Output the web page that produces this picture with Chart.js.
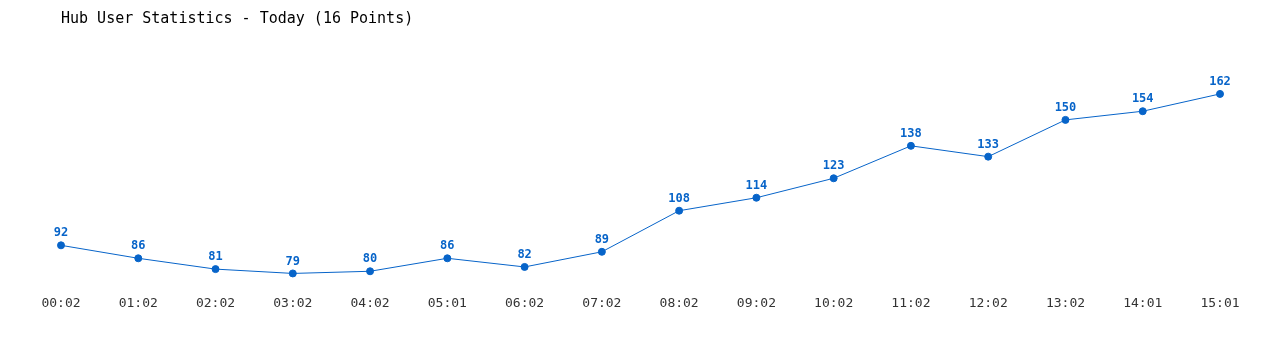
<!DOCTYPE html>
<html>
    <head>
        <meta charset="utf-8">
        <title>Hub User Statistics</title>
        <script src="https://cdn.jsdelivr.net/npm/chart.js@4/dist/chart.umd.min.js"></script>
        <style>
            body { margin: 0; background: #fff; }
        </style>
    </head>
    <body>
        <canvas id="hub-chart" width="1280" height="350"></canvas>
        <script>
            var chart_title = 'Hub User Statistics - Today (16 Points)';
            var array_labels = ['00:02', '01:02', '02:02', '03:02', '04:02', '05:01', '06:02', '07:02',
                                '08:02', '09:02', '10:02', '11:02', '12:02', '13:02', '14:01', '15:01'];
            var array_users = [92, 86, 81, 79, 80, 86, 82, 89, 108, 114, 123, 138, 133, 150, 154, 162];

            var line_color = '#0764c9';
            var font_mono = '"DejaVu Sans Mono", "Liberation Mono", monospace';

            // draws the value above every point
            var pointValues = {
                id: 'pointValues',
                afterDatasetsDraw: function(chart) {
                    var ctx = chart.ctx;
                    var meta = chart.getDatasetMeta(0);
                    ctx.save();
                    ctx.fillStyle = line_color;
                    ctx.font = 'bold 12px ' + font_mono;
                    ctx.textAlign = 'center';
                    ctx.textBaseline = 'bottom';
                    meta.data.forEach(function(pt, i) {
                        ctx.fillText(chart.data.datasets[0].data[i], pt.x, pt.y - 6);
                    });
                    ctx.restore();
                }
            };

            new Chart(document.getElementById('hub-chart'), {
                'type': 'line',
                'data': {
                    'labels': array_labels,
                    'datasets': [{
                        'label': 'Users',
                        'data': array_users,
                        'fill': false,
                        'borderColor': line_color,
                        'backgroundColor': line_color,
                        'borderWidth': 1,
                        'pointRadius': 3.5,
                        'pointBorderWidth': 1,
                        'lineTension': 0.0
                    }]
                },
                'plugins': [pointValues],
                'options': {
                    responsive: false,
                    animation: false,
                    layout: {
                        padding: { left: 61, right: 60, top: 10, bottom: 35.5 }
                    },
                    plugins: {
                        legend: { display: false },
                        tooltip: { enabled: false },
                        title: {
                            display: true,
                            text: chart_title,
                            align: 'start',
                            color: '#000',
                            font: { family: font_mono, size: 15, weight: 'normal' },
                            padding: { top: 0, bottom: 27 }
                        }
                    },
                    scales: {
                        x: {
                            offset: false,
                            grid: { display: false, drawTicks: false },
                            border: { display: false },
                            ticks: {
                                color: '#333',
                                padding: 3,
                                maxRotation: 0,
                                autoSkip: false,
                                font: { family: font_mono, size: 13 }
                            }
                        },
                        y: {
                            display: false,
                            min: 70,
                            max: 180
                        }
                    }
                }
            });
        </script>
    </body>
</html>
